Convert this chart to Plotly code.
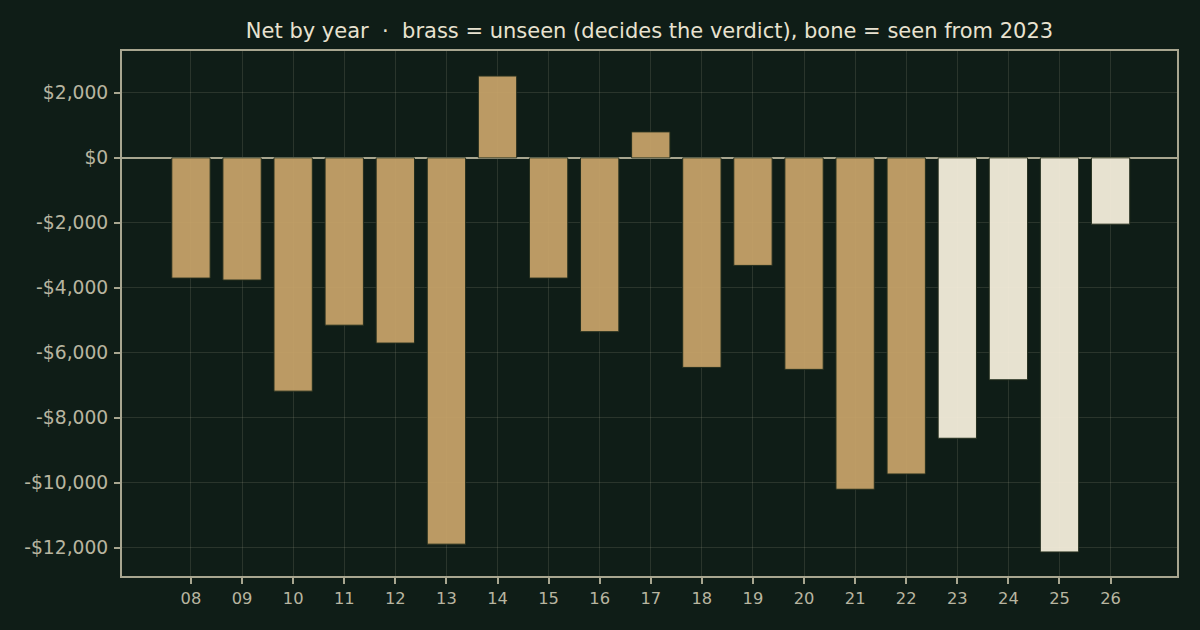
import plotly.graph_objects as go

years = ["08", "09", "10", "11", "12", "13", "14", "15", "16", "17",
         "18", "19", "20", "21", "22", "23", "24", "25", "26"]
net = [-3700, -3760, -7180, -5150, -5700, -11890, 2520, -3700, -5350, 800,
       -6450, -3310, -6510, -10200, -9730, -8630, -6830, -12130, -2040]
seen_from = "23"

BG = "#0f1d17"
BRASS = "#c9a46a"
BONE = "#f8f1de"
INK = "#b8b5a0"
AXIS = "#a8a690"
GRID = "rgba(168,166,144,0.18)"

colors = [BONE if y >= seen_from else BRASS for y in years]

fig = go.Figure()
fig.add_trace(go.Bar(
    x=years, y=net, width=0.75,
    marker=dict(color=colors, opacity=0.93,
                line=dict(color="#26301f", width=1)),
    showlegend=False,
))

fig.update_layout(
    width=1200, height=630,
    paper_bgcolor=BG, plot_bgcolor=BG,
    margin=dict(l=122, r=23, t=51, b=54),
    font=dict(family="DejaVu Sans", color=INK, size=15),
    title=dict(text="Net by year  ·  brass = unseen (decides the verdict), bone = seen from 2023",
               x=0.5, xref="paper", xanchor="center", y=0.951, yanchor="middle",
               font=dict(size=21, color="#e8e2d0")),
)
fig.update_xaxes(
    type="category", range=[-1.35, 19.3],
    showgrid=True, gridcolor=GRID, gridwidth=1,
    showline=True, linecolor=AXIS, linewidth=2, mirror=True,
    ticks="outside", tickcolor=AXIS, ticklen=6, tickwidth=2,
    tickfont=dict(size=16.3, color=INK),
)
fig.update_yaxes(
    range=[-12870, 3290],
    tickvals=[2000, 0, -2000, -4000, -6000, -8000, -10000, -12000],
    ticktext=["$2,000", "$0", "-$2,000", "-$4,000", "-$6,000", "-$8,000", "-$10,000", "-$12,000"],
    showgrid=True, gridcolor=GRID, gridwidth=1,
    zeroline=True, zerolinecolor=AXIS, zerolinewidth=2,
    showline=True, linecolor=AXIS, linewidth=2, mirror=True,
    ticks="outside", tickcolor=AXIS, ticklen=6, tickwidth=2,
    tickfont=dict(size=18.7, color=INK), ticklabelstandoff=2,
)

# drop the page margin so the figure sits at 0,0
fig.write_html("out.html", config={"displayModeBar": False},
               post_script="document.body.style.margin='0';")
